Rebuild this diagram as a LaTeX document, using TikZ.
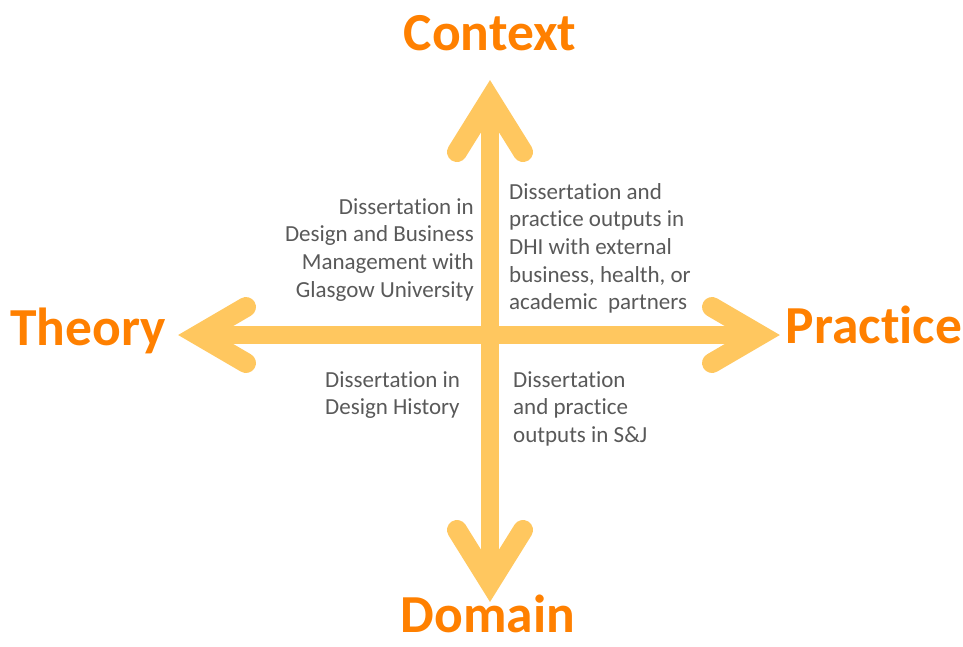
\documentclass[tikz,border=0pt]{standalone}
\usepackage{fontspec}
\setmainfont{Carlito}[Ligatures=NoCommon]
\usepackage{tikz}
\usetikzlibrary{positioning}

\definecolor{axisc}{RGB}{255,199,95}
\definecolor{titlec}{RGB}{255,128,0}
\definecolor{notec}{RGB}{89,89,89}

\tikzset{
  shaft/.style={draw=axisc, line width=18pt},
  head/.style={draw=axisc, line width=20pt, line cap=round, line join=miter},
  axistitle/.style={text=titlec, font=\fontsize{53.5}{60}\selectfont\bfseries, inner sep=0pt, anchor=base},
  note/.style={text=notec, font=\fontsize{23}{27.7}\selectfont, inner sep=0pt}
}

\begin{document}
\begin{tikzpicture}[x=1pt,y=-1pt]
    \useasboundingbox (0,0) rectangle (963,646);

    % Horizontal axis
    \draw[shaft] (198,335) -- (760,335);
    \draw[head] (246,307) -- (198,335) -- (246,363);
    \draw[head] (712,307) -- (760,335) -- (712,363);

    % Vertical axis (on top)
    \draw[shaft] (490,99) -- (490,583);
    \draw[head] (457,152) -- (490,99) -- (523,152);
    \draw[head] (457,530) -- (490,583) -- (523,530);

    % Axis titles
    \node[axistitle] (context) at (490,50) {Context};
    \node[axistitle] (domain) at (488,632) {Domain};
    \node[axistitle] (theory) at (88,345) {Theory};
    \node[axistitle] (practice) at (874,343) {Practice};

    % Quadrant notes
    \node[note, align=right, anchor=north east] (ctxtheory) at (474,198)
        {Dissertation in\\Design and Business\\Management with\\Glasgow University};
    \node[note, align=left, anchor=north west] (ctxpractice) at (509,183)
        {Dissertation and\\practice outputs in\\DHI with external\\business, health, or\\academic~ partners};
    \node[note, align=left, anchor=north west] (domtheory) at (325,371)
        {Dissertation in\\Design History};
    \node[note, align=left, anchor=north west] (dompractice) at (513,371)
        {Dissertation\\and practice\\outputs in S\&J};

  \end{tikzpicture}
\end{document}
